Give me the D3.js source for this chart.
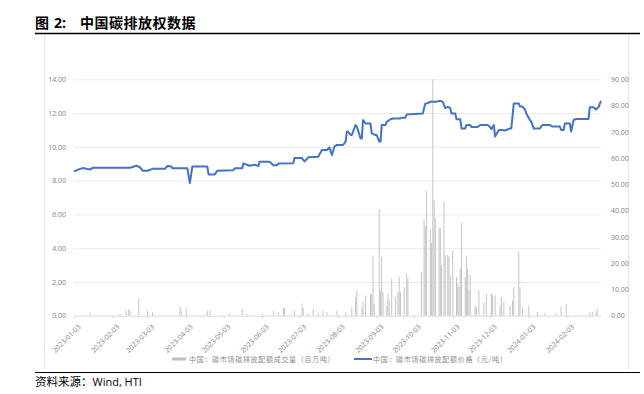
<!DOCTYPE html>
<html>
<head>
<meta charset="utf-8">
<script src="https://cdn.jsdelivr.net/npm/d3@7/dist/d3.min.js"></script>
<style>
  body { margin: 0; background: #fff; }
  svg { display: block; }
</style>
</head>
<body>
<div id="viz"></div>
<script>
// price line (yuan / tonne), right axis
var priceDates = ["2023-01-03","2023-01-08","2023-01-10","2023-01-16","2023-01-18","2023-02-17","2023-02-22","2023-02-25","2023-02-27","2023-03-03","2023-03-07","2023-03-17","2023-03-19","2023-03-22","2023-03-23","2023-04-04","2023-04-06","2023-04-08","2023-04-20","2023-04-21","2023-04-26","2023-04-28","2023-05-11","2023-05-12","2023-05-18","2023-05-19","2023-05-24","2023-05-28","2023-05-31","2023-06-01","2023-06-09","2023-06-12","2023-06-15","2023-06-16","2023-06-28","2023-06-29","2023-07-05","2023-07-07","2023-07-10","2023-07-18","2023-07-21","2023-07-25","2023-07-27","2023-07-29","2023-07-31","2023-08-02","2023-08-07","2023-08-09","2023-08-10","2023-08-11","2023-08-13","2023-08-14","2023-08-15","2023-08-17","2023-08-18","2023-08-21","2023-08-22","2023-08-23","2023-08-25","2023-08-29","2023-08-30","2023-09-02","2023-09-03","2023-09-05","2023-09-06","2023-09-07","2023-09-10","2023-09-11","2023-09-14","2023-09-16","2023-09-22","2023-09-23","2023-09-26","2023-09-27","2023-10-10","2023-10-12","2023-10-14","2023-10-16","2023-10-21","2023-10-24","2023-10-26","2023-10-28","2023-10-30","2023-11-01","2023-11-02","2023-11-05","2023-11-06","2023-11-09","2023-11-10","2023-11-13","2023-11-14","2023-11-17","2023-11-18","2023-11-23","2023-11-25","2023-12-01","2023-12-03","2023-12-04","2023-12-06","2023-12-07","2023-12-10","2023-12-13","2023-12-15","2023-12-19","2023-12-20","2023-12-22","2023-12-26","2023-12-27","2023-12-29","2023-12-31","2024-01-01","2024-01-04","2024-01-05","2024-01-07","2024-01-12","2024-01-14","2024-01-20","2024-01-22","2024-01-28","2024-01-29","2024-01-31","2024-02-01","2024-02-05","2024-02-06","2024-02-08","2024-02-10","2024-02-20","2024-02-21","2024-02-24","2024-02-26","2024-02-28","2024-03-01"];
var priceValues = [55.0,55.9,56.2,55.7,56.3,56.3,57.1,56.5,55.2,55.2,55.9,55.9,57.0,56.8,56.1,56.1,50.5,56.8,56.8,53.8,53.8,55.2,55.4,56.1,56.1,58.0,57.1,57.5,57.0,58.6,58.6,57.3,57.3,57.9,58.0,60.0,60.0,58.7,60.3,60.5,63.1,63.1,64.0,61.2,64.4,65.0,65.0,66.3,70.1,70.0,68.8,68.8,70.1,72.6,72.0,67.5,67.5,74.5,73.2,73.2,69.4,68.8,68.8,66.3,66.3,72.6,72.6,73.8,74.8,75.1,75.1,75.4,75.4,76.6,77.0,80.8,80.9,81.5,81.5,81.8,81.4,79.0,79.5,79.0,77.0,77.0,74.8,74.8,71.3,71.3,72.6,72.6,71.8,71.8,72.6,72.6,71.8,71.0,72.6,68.2,70.7,70.7,70.5,71.3,71.3,80.8,80.8,79.6,79.6,78.5,77.0,74.5,73.9,71.3,71.3,72.6,72.6,72.0,72.0,70.7,70.7,73.2,73.2,70.1,74.5,74.9,74.9,79.4,79.4,78.5,79.4,81.8];

// traded volume (million tonnes), left axis
var volDates = ["2023-01-16","2023-02-09","2023-02-14","2023-02-16","2023-02-17","2023-02-24","2023-03-03","2023-03-07","2023-03-29","2023-03-30","2023-04-03","2023-04-20","2023-04-22","2023-05-08","2023-05-18","2023-05-22","2023-06-03","2023-06-12","2023-06-16","2023-06-20","2023-06-21","2023-06-29","2023-07-05","2023-07-06","2023-07-10","2023-07-14","2023-07-18","2023-07-22","2023-07-25","2023-08-02","2023-08-09","2023-08-14","2023-08-17","2023-08-18","2023-08-22","2023-08-23","2023-08-25","2023-08-29","2023-08-30","2023-08-31","2023-09-01","2023-09-05","2023-09-06","2023-09-07","2023-09-08","2023-09-11","2023-09-12","2023-09-13","2023-09-15","2023-09-18","2023-09-20","2023-09-21","2023-09-22","2023-09-25","2023-09-27","2023-09-28","2023-10-09","2023-10-11","2023-10-12","2023-10-13","2023-10-16","2023-10-17","2023-10-18","2023-10-19","2023-10-20","2023-10-23","2023-10-24","2023-10-25","2023-10-27","2023-10-28","2023-10-30","2023-10-31","2023-11-01","2023-11-03","2023-11-06","2023-11-07","2023-11-08","2023-11-09","2023-11-10","2023-11-13","2023-11-14","2023-11-15","2023-11-16","2023-11-17","2023-11-21","2023-11-22","2023-11-24","2023-11-28","2023-11-30","2023-12-04","2023-12-05","2023-12-07","2023-12-11","2023-12-12","2023-12-14","2023-12-19","2023-12-21","2023-12-22","2023-12-26","2023-12-27","2023-12-29","2024-01-03","2024-01-10","2024-01-16","2024-01-25","2024-01-29","2024-02-02","2024-02-21","2024-02-23","2024-02-26","2024-02-27"];
var volValues = [0.18,0.1,0.3,0.38,0.3,1.03,0.3,0.2,0.53,0.3,0.45,0.3,0.3,0.15,0.4,0.1,0.1,0.28,0.2,0.45,0.45,0.3,0.73,0.45,0.15,0.4,0.15,0.3,0.2,0.3,0.2,0.5,1.1,1.5,0.4,0.87,1.2,1.3,1.3,3.5,0.7,6.3,1.5,3.5,1.4,0.6,1.3,0.9,2.2,1.1,1.4,2.3,1.4,1.7,2.5,2.2,2.6,5.7,5.3,7.4,5.1,4.3,14.0,6.85,5.8,5.2,5.2,3.0,6.75,3.6,3.6,3.5,2.4,3.85,2.3,1.9,1.7,2.8,5.5,2.3,3.5,2.75,1.5,2.4,0.6,0.5,1.5,0.8,1.3,1.3,1.2,1.2,0.6,1.1,0.8,0.6,0.9,1.7,3.8,1.7,0.5,0.6,0.2,0.15,0.15,0.55,0.7,0.2,0.2,0.2,0.4];

var leftTicks = [0, 2, 4, 6, 8, 10, 12, 14];
var rightTicks = [0, 10, 20, 30, 40, 50, 60, 70, 80, 90];
var monthTicks = ["2023-01-03","2023-02-03","2023-03-03","2023-04-03","2023-05-03","2023-06-03","2023-07-03","2023-08-03","2023-09-03","2023-10-03","2023-11-03","2023-12-03","2024-01-03","2024-02-03"];
var titleParts = ["图", "2:", "中国碳排放权数据"];
var legendLabels = ["中国：碳市场碳排放配额成交量（百万吨）", "中国：碳市场碳排放配额价格（元/吨）"];
var sourceLabel = "资料来源：";
var sourceText = "Wind, HTI";

var W = 644, H = 394;
var margin = { top: 79.3, right: 43, bottom: 78.3, left: 74 },
    width = W - margin.left - margin.right,
    height = H - margin.top - margin.bottom;

var pDate = d3.timeParse("%Y-%m-%d");
var prices = priceDates.map(function(d, i) { return { date: pDate(d), value: priceValues[i] }; });
var vols = volDates.map(function(d, i) { return { date: pDate(d), value: volValues[i] }; });

var svg = d3.select("#viz").append("svg")
    .attr("width", W)
    .attr("height", H);

// title + rules
var title = svg.append("text")
    .attr("y", 28)
    .attr("font-family", "'Noto Sans CJK SC', sans-serif")
    .attr("font-weight", "bold")
    .attr("font-size", 14)
    .attr("fill", "#000");
title.append("tspan").attr("x", 35).text(titleParts[0]);
title.append("tspan").attr("x", 54).attr("font-family", "'Open Sans', sans-serif").text(titleParts[1]);
title.append("tspan").attr("x", 80).attr("letter-spacing", 0.5).text(titleParts[2]);

svg.append("line").attr("x1", 35).attr("x2", 640).attr("y1", 33.5).attr("y2", 33.5)
    .attr("stroke", "#000").attr("stroke-width", 1.3);
svg.append("line").attr("x1", 35).attr("x2", 640).attr("y1", 372.5).attr("y2", 372.5)
    .attr("stroke", "#000").attr("stroke-width", 1);

// faint chart frame
svg.append("line").attr("x1", 44.5).attr("x2", 44.5).attr("y1", 36).attr("y2", 370)
    .attr("stroke", "#e6e6e6");
svg.append("line").attr("x1", 628.5).attr("x2", 628.5).attr("y1", 36).attr("y2", 370)
    .attr("stroke", "#e6e6e6");

var src = svg.append("text")
    .attr("x", 35).attr("y", 386)
    .attr("font-size", 11.5)
    .attr("fill", "#000");
src.append("tspan").attr("font-family", "'Noto Sans CJK SC', serif").text(sourceLabel);
src.append("tspan").attr("font-family", "'Open Sans', 'Liberation Sans', sans-serif").attr("font-size", 11).text(sourceText);

var x = d3.scaleTime()
    .domain([pDate("2023-01-03"), pDate("2024-03-01")])
    .range([0, width]);
var yL = d3.scaleLinear().domain([0, 14]).range([height, 0]);
var yR = d3.scaleLinear().domain([0, 90]).range([height, 0]);

var g = svg.append("g")
    .attr("transform", "translate(" + margin.left + "," + margin.top + ")");

// gridlines from left axis
g.append("g")
    .attr("class", "grid")
    .call(d3.axisLeft(yL).tickValues(leftTicks.slice(1)).tickSize(-width).tickFormat(""))
    .call(function(s) {
        s.select(".domain").remove();
        s.selectAll("line").attr("stroke", "#ebebeb");
    });

// bars
g.append("g")
    .selectAll("rect")
    .data(vols).enter()
    .append("rect")
        .attr("x", function(d) { return x(d.date) - 0.5; })
        .attr("width", 1)
        .attr("y", function(d) { return yL(d.value); })
        .attr("height", function(d) { return height - yL(d.value); })
        .attr("fill", "#c4c4c4");

// baseline
g.append("line")
    .attr("x1", 0).attr("x2", width)
    .attr("y1", height + 0.5).attr("y2", height + 0.5)
    .attr("stroke", "#d9d9d9");

// price line
var line = d3.line()
    .x(function(d) { return x(d.date); })
    .y(function(d) { return yR(d.value); });
g.append("path")
    .datum(prices)
    .attr("fill", "none")
    .attr("stroke", "#4472C4")
    .attr("stroke-width", 2)
    .attr("stroke-linejoin", "round")
    .attr("d", line);

var axisFont = "'Open Sans', 'Liberation Sans', sans-serif";

// left axis
var yLeft = g.append("g")
    .call(d3.axisLeft(yL).tickValues(leftTicks).tickSize(0).tickPadding(8).tickFormat(d3.format(".2f")));
yLeft.select(".domain").remove();
yLeft.selectAll("text").attr("font-family", axisFont).attr("font-size", 7).attr("fill", "#7f7f7f");

// right axis
var yRight = g.append("g")
    .attr("transform", "translate(" + width + ",0)")
    .call(d3.axisRight(yR).tickValues(rightTicks).tickSize(0).tickPadding(10).tickFormat(d3.format(".2f")));
yRight.select(".domain").remove();
yRight.selectAll("text").attr("font-family", axisFont).attr("font-size", 7).attr("fill", "#7f7f7f");

// x axis
var xAxis = g.append("g")
    .attr("transform", "translate(0," + height + ")")
    .call(d3.axisBottom(x).tickValues(monthTicks.map(pDate)).tickSize(3).tickFormat(d3.timeFormat("%Y-%m-%d")));
xAxis.select(".domain").remove();
xAxis.selectAll("line").attr("stroke", "#d9d9d9");
xAxis.selectAll("text")
    .attr("font-family", axisFont)
    .attr("font-size", 7)
    .attr("fill", "#7f7f7f")
    .attr("text-anchor", "end")
    .attr("dy", "0.3em")
    .attr("transform", "translate(1,6) rotate(-45)");

// legend
var legend = svg.append("g")
    .attr("font-family", "'Noto Sans CJK SC', sans-serif")
    .attr("font-size", 7)
    .attr("letter-spacing", 0.7)
    .attr("fill", "#8c8c8c");
legend.append("line").attr("x1", 172).attr("x2", 186).attr("y1", 359).attr("y2", 359)
    .attr("stroke", "#bfbfbf").attr("stroke-width", 3);
legend.append("text").attr("x", 189).attr("y", 361.5).text(legendLabels[0]);
legend.append("line").attr("x1", 354).attr("x2", 372).attr("y1", 359).attr("y2", 359)
    .attr("stroke", "#4472C4").attr("stroke-width", 2);
legend.append("text").attr("x", 373).attr("y", 361.5).text(legendLabels[1]);
</script>
</body>
</html>
